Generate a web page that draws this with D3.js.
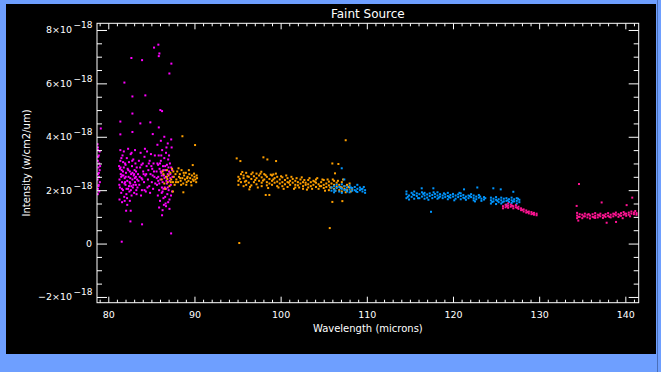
<!DOCTYPE html>
<html>
<head>
<meta charset="utf-8">
<script src="https://cdn.jsdelivr.net/npm/d3@7"></script>
<style>
html, body { margin: 0; padding: 0; background: #6e9fff; }
svg { display: block; }
</style>
</head>
<body>
<svg id="chart" width="661" height="372"></svg>
<script>
// intensities are in units of 1e-18 W/cm2/um
const xMajor = [80, 90, 100, 110, 120, 130, 140];
const yMajor = [-2, 0, 2, 4, 6, 8];
const yExponent = "\u221218";
const chartTitle = "Faint Source";
const xTitle = "Wavelength (microns)";
const yTitle = "Intensity (w/cm2/um)";

// first detector band (magenta)
const magentaPts = [
  [78.75,3.72],[78.8,3.5],[78.9,3.3],[78.78,3.1],[78.95,3.0],[78.85,2.85],[79.0,2.75],[78.8,2.6],
  [78.92,2.5],[78.76,2.4],[79.02,2.3],[78.88,2.2],[78.8,2.05],[78.95,1.95],[78.78,1.85],[79.05,2.9],
  [78.9,2.65],[78.82,3.25],[79.0,3.45],[78.86,2.15],[78.8,3.6],
  [81.25,2.9],[81.3,2.4],[81.35,2.1],[81.4,3.1],[81.45,2.6],[81.5,1.9],[81.55,2.75],[81.6,2.3],
  [81.65,3.3],[81.7,2.0],[81.75,2.55],[81.8,2.85],[81.85,1.75],[81.9,2.45],[81.95,3.0],[82.0,2.2],
  [82.05,2.65],[82.1,1.85],[82.15,3.2],[82.2,2.35],[82.25,2.8],[82.3,2.05],[82.35,2.5],[82.4,3.05],
  [82.45,1.95],[82.5,2.7],[82.55,2.25],[82.6,3.35],[82.65,2.6],[82.7,1.8],[82.75,2.9],[82.8,2.4],
  [82.85,2.1],[82.9,3.15],[82.95,2.55],[83.0,1.9],[83.05,2.75],[83.1,2.3],[83.15,3.0],[83.2,2.5],
  [83.25,2.0],[83.3,2.85],[83.35,2.4],[81.3,1.65],[81.6,1.55],[81.9,1.6],[82.2,1.45],[82.5,1.6],
  [81.4,3.5],[81.8,3.45],[82.3,3.55],[82.7,3.4],[83.1,3.5],[81.5,2.5],[81.7,2.7],[82.0,2.95],
  [82.4,2.15],[82.8,2.65],[83.2,2.2],[81.35,2.8],[81.95,2.3],[82.55,2.45],[83.0,2.6],
  [81.28,2.2],[81.42,2.85],[81.58,2.05],[81.72,3.05],[81.88,2.25],[82.02,2.5],[82.18,1.7],[82.32,2.75],
  [82.48,2.3],[82.62,2.0],[82.78,3.1],[82.92,2.2],[83.08,2.45],[83.22,2.7],[83.38,2.1],[81.52,3.2],
  [82.12,2.05],[82.68,2.15],[83.28,1.85],[81.62,2.55],
  [83.45,2.6],[83.55,3.1],[83.6,2.2],[83.7,2.85],[83.75,3.4],[83.85,2.45],[83.9,2.0],[84.0,3.0],
  [84.05,2.7],[84.15,2.3],[84.2,3.25],[84.3,2.55],[84.35,1.95],[84.45,2.9],[84.5,3.45],[84.6,2.4],
  [84.65,2.75],[84.75,2.15],[84.8,3.1],[84.9,2.6],[84.95,3.35],[85.05,2.3],[85.1,2.8],[85.2,2.05],
  [85.25,3.0],[85.35,2.5],[85.4,3.3],[83.65,2.5],[84.1,2.6],[84.55,2.1],[85.0,2.9],[85.45,2.25],
  [84.25,3.55],[83.8,1.8],[84.85,1.9],[83.5,2.35],[83.95,2.4],[84.4,2.6],[84.7,3.0],[85.15,2.55],
  [84.2,2.0],[83.85,2.95],[85.3,2.7],
  [85.6,2.7],[85.65,2.2],[85.7,3.0],[85.75,1.8],[85.8,2.5],[85.85,3.3],[85.9,2.0],[85.95,2.8],
  [86.0,1.6],[86.05,2.4],[86.1,3.1],[86.15,2.65],[86.2,1.9],[86.25,3.5],[86.3,2.3],[86.35,2.9],
  [86.4,1.7],[86.45,2.55],[86.5,3.2],[86.55,2.1],[86.6,2.75],[86.65,1.5],[86.7,3.4],[86.75,2.35],
  [86.8,2.95],[86.85,1.85],[86.9,2.6],[86.95,3.15],[87.0,2.0],[87.05,2.7],[87.1,1.65],[87.15,3.0],
  [87.2,2.45],[87.25,2.2],[87.3,2.85],[87.35,3.6],[87.4,1.95],[87.45,2.5],[85.7,3.7],[86.1,3.85],
  [86.5,4.0],[86.9,3.75],[87.3,3.9],[85.9,1.35],[86.3,1.25],[86.7,1.4],[87.1,1.3],[86.4,2.05],
  [86.8,2.25],[86.0,3.0],[87.2,2.6],[86.2,2.55],[86.6,2.9],[85.8,2.35],[86.95,1.55],
  [85.62,2.45],[85.78,2.95],[85.92,2.25],[86.08,2.7],[86.22,2.1],[86.38,2.75],[86.52,2.45],[86.68,2.05],
  [86.82,2.5],[86.98,2.85],[87.12,2.35],[87.28,1.8],[87.42,2.75],[86.3,1.95],[86.6,1.75],[86.9,2.1],
  [86.15,3.3],[86.75,3.6],[87.05,3.3],[86.45,1.45],
  [85.81,7.45],[85.31,7.34],[85.93,7.12],[85.86,7.02],[83.92,6.87],[82.68,6.95],[87.32,6.74],
  [87.09,6.37],[81.87,6.03],[82.8,5.51],[84.3,5.55],[82.8,4.87],[86.04,5.0],[86.24,4.96],
  [81.4,4.57],[83.72,4.5],[84.88,4.54],[85.86,4.35],[79.13,4.31],[82.8,4.18],[81.4,4.09],
  [85.16,4.1],[81.56,0.07],[87.29,0.38],[83.92,0.72],[82.57,0.83],[82.07,1.23],[82.6,1.23],[86.24,1.06]
];

// second band (orange)
const orangePts = [
  [86.2,2.4],[86.4,2.6],[86.5,2.25],[86.7,2.5],[86.8,2.75],[86.9,2.3],[87.0,2.55],[87.1,2.15],
  [87.2,2.65],[87.3,2.4],[87.4,2.8],[87.5,2.3],[87.6,2.5],[87.7,2.2],[87.8,2.6],[87.9,2.4],
  [88.0,2.7],[88.1,2.3],[88.2,2.5],[88.3,2.6],[88.4,2.35],[88.5,2.75],[88.6,2.45],[88.7,2.25],
  [88.8,2.55],[88.9,2.4],[89.0,2.65],[89.1,2.3],[89.2,2.5],[89.3,2.35],[89.4,2.6],[89.5,2.45],
  [89.6,2.3],[89.7,2.55],[89.8,2.4],[89.9,2.35],[90.0,2.5],[90.1,2.4],[90.2,2.3],[90.3,2.45],
  [86.3,2.7],[86.85,2.42],[87.25,2.3],[87.55,2.7],[87.85,2.3],[88.15,2.82],[88.45,2.2],[88.75,2.65],
  [89.05,2.2],[89.35,2.75],[89.65,2.18],[89.95,2.62],[90.25,2.55],[88.35,2.45],[89.15,2.45],
  [88.6,4.02],[90.07,3.69],[89.8,2.94],[88.71,1.92],[86.6,2.05],[87.5,1.95],
  [95.1,2.5],[95.1,2.2],[95.1,2.35],[95.4,2.6],[95.4,2.3],[95.7,2.45],[95.7,2.15],[95.7,2.55],
  [96.0,2.35],[96.0,2.65],[96.0,2.2],[96.3,2.5],[96.3,2.28],[96.6,2.42],[96.6,2.6],[96.6,2.18],
  [96.9,2.3],[96.9,2.52],[97.2,2.45],[97.2,2.22],[97.2,2.62],[97.5,2.35],[97.5,2.55],[97.8,2.28],
  [97.8,2.48],[97.8,2.15],[98.1,2.4],[98.1,2.6],[98.4,2.3],[98.4,2.5],[98.4,2.18],[98.7,2.42],
  [98.7,2.25],[99.0,2.35],[99.0,2.55],[99.0,2.2],[99.3,2.45],[99.3,2.28],[99.6,2.32],[99.6,2.5],
  [99.6,2.15],[99.9,2.4],[99.9,2.25],[100.2,2.3],[100.2,2.48],[100.2,2.15],[100.5,2.38],[100.5,2.22],
  [100.8,2.3],[100.8,2.45],[100.8,2.12],[101.1,2.35],[101.1,2.2],[101.4,2.28],[101.4,2.42],[101.7,2.2],
  [101.7,2.35],[101.7,2.1],[102.0,2.3],[102.0,2.18],[102.3,2.25],[102.3,2.4],[102.6,2.15],[102.6,2.3],
  [102.6,2.05],[102.9,2.28],[102.9,2.2],[103.2,2.22],[103.2,2.38],[103.2,2.1],[103.5,2.3],[103.5,2.15],
  [103.8,2.2],[103.8,2.35],[104.1,2.28],[104.1,2.12],[104.1,2.4],[104.4,2.22],[104.4,2.05],[104.7,2.3],
  [104.7,2.15],[105.0,2.2],[105.0,2.38],[105.0,2.08],[105.3,2.25],[105.3,2.12],[105.6,2.18],[105.6,2.32],
  [105.6,2.0],[105.9,2.1],[105.9,2.25],[106.2,2.2],[106.2,2.05],[106.2,2.35],[106.5,2.12],[106.5,2.28],
  [106.8,2.2],[106.8,2.0],[107.1,2.1],[107.1,2.3],[107.1,1.95],[107.4,2.15],[107.4,2.05],[107.7,2.2],
  [107.7,2.0],[108.0,2.1],[108.0,2.25],[108.3,2.05],
  [95.25,2.42],[95.55,2.68],[95.85,2.32],[96.15,2.52],[96.45,2.12],[96.75,2.66],[97.05,2.38],[97.35,2.1],
  [97.65,2.62],[97.95,2.36],[98.25,2.56],[98.55,2.08],[98.85,2.58],[99.15,2.4],[99.45,2.62],[99.75,2.1],
  [100.05,2.52],[100.35,2.05],[100.65,2.55],[100.95,2.28],[101.25,2.5],[101.55,2.05],[101.85,2.45],[102.15,2.1],
  [102.45,2.48],[102.75,2.38],[103.05,2.02],[103.35,2.45],[103.65,2.05],[103.95,2.32],[104.25,2.45],[104.55,2.15],
  [104.85,2.4],[105.15,1.98],[105.45,2.4],[105.75,2.1],[106.05,2.4],[106.35,1.98],[106.65,2.35],[106.95,2.12],
  [107.25,2.4],[107.55,1.92],[107.85,2.12],[108.15,1.95],
  [94.9,3.19],[95.33,3.09],[98.0,3.23],[98.46,3.15],[99.47,3.09],[97.76,2.69],[99.15,2.59],
  [98.27,1.82],[98.69,1.82],[96.37,2.03],[106.0,3.0],[106.7,2.98],[106.31,2.63],[106.0,1.56],
  [107.16,1.59],[107.55,3.87],[95.2,0.02],[105.7,0.58]
];

// third band (blue)
const bluePts = [
  [105.9,2.1],[105.9,1.98],[106.2,2.15],[106.2,2.02],[106.2,1.92],[106.5,2.08],[106.5,2.2],[106.8,1.95],
  [106.8,2.12],[107.1,2.05],[107.1,2.22],[107.1,1.9],[107.4,2.0],[107.4,2.15],[107.7,2.1],[107.7,1.95],
  [108.0,2.02],[108.0,2.18],[108.0,1.92],[108.3,2.08],[108.3,1.98],[108.6,2.12],[108.6,2.0],[108.9,2.05],
  [108.9,1.93],[108.9,2.2],[109.2,2.0],[109.2,2.1],[109.5,1.95],[109.5,2.05],[109.8,2.0],[109.8,1.9],
  [106.35,1.98],[106.95,2.08],[107.55,2.02],[108.15,2.1],[108.75,1.96],[109.35,2.04],[109.65,2.12],
  [107.09,2.82],[107.39,2.4],
  [114.6,1.85],[114.6,1.7],[114.6,1.95],[114.9,1.8],[114.9,1.65],[115.2,1.9],[115.2,1.75],[115.5,1.82],
  [115.5,1.68],[115.5,1.95],[115.8,1.78],[115.8,1.88],[116.1,1.85],[116.1,1.7],[116.4,1.92],[116.4,1.76],
  [116.7,1.8],[116.7,1.68],[116.7,1.9],[117.0,1.84],[117.0,1.72],[117.3,1.78],[117.3,1.88],[117.6,1.82],
  [117.6,1.7],[117.9,1.86],[117.9,1.75],[118.2,1.8],[118.2,1.68],[118.2,1.92],[118.5,1.76],[118.5,1.85],
  [118.8,1.8],[118.8,1.7],[119.1,1.84],[119.1,1.74],[119.4,1.78],[119.4,1.66],[119.4,1.9],[119.7,1.82],
  [119.7,1.72],[120.0,1.76],[120.0,1.86],[120.3,1.8],[120.3,1.68],[120.6,1.74],[120.6,1.84],[120.9,1.78],
  [120.9,1.66],[120.9,1.88],[121.2,1.72],[121.2,1.82],[121.5,1.76],[121.5,1.64],[121.8,1.8],[121.8,1.7],
  [122.1,1.74],[122.1,1.85],[122.4,1.7],[122.4,1.62],[122.4,1.8],[122.7,1.76],[122.7,1.66],[123.0,1.72],
  [123.0,1.82],[123.3,1.68],[123.3,1.6],[123.6,1.74],[123.6,1.65],
  [114.75,1.75],[115.35,1.84],[115.95,1.7],[116.55,1.86],[117.15,1.64],[117.75,1.92],[118.35,1.72],[118.95,1.88],
  [119.55,1.74],[120.15,1.62],[120.75,1.9],[121.35,1.7],[121.95,1.78],[122.55,1.58],[123.15,1.76],[123.75,1.7],
  [124.4,1.62],[124.4,1.5],[124.4,1.72],[124.7,1.58],[124.7,1.68],[125.0,1.64],[125.0,1.48],[125.0,1.74],
  [125.3,1.55],[125.3,1.66],[125.6,1.62],[125.6,1.5],[125.6,1.72],[125.9,1.58],[125.9,1.68],[126.2,1.6],
  [126.2,1.46],[126.2,1.7],[126.5,1.56],[126.5,1.66],[126.8,1.62],[126.8,1.52],[126.8,1.72],[127.1,1.58],
  [127.1,1.66],[127.4,1.6],[127.4,1.5],[127.4,1.7],[127.7,1.55],[127.7,1.64],
  [124.55,1.56],[125.15,1.6],[125.75,1.55],[126.35,1.62],[126.95,1.58],[127.55,1.68],
  [116.37,2.07],[117.72,2.07],[122.82,2.1],[124.68,2.07],[125.54,2.03],[127.0,1.94],[117.45,1.19],[121.28,2.03]
];

// fourth band (pink)
const pinkPts = [
  [125.8,1.4],[125.8,1.32],[126.1,1.45],[126.1,1.36],[126.4,1.42],[126.4,1.34],[126.4,1.5],[126.7,1.38],
  [126.7,1.46],[127.0,1.4],[127.0,1.32],[127.3,1.36],[127.3,1.44],[127.6,1.3],[127.6,1.38],[127.9,1.32],
  [127.9,1.25],[128.2,1.28],[128.2,1.2],[128.5,1.24],[128.5,1.16],[128.8,1.2],[128.8,1.13],[129.1,1.18],
  [129.1,1.1],[129.4,1.15],[129.4,1.08],[129.7,1.12],[129.7,1.06],
  [126.25,1.4],[126.85,1.42],[127.45,1.34],[128.05,1.26],[128.65,1.18],[129.25,1.12],
  [134.4,1.05],[134.4,0.95],[134.4,1.15],[134.7,1.0],[134.7,1.1],[135.0,1.08],[135.0,0.95],[135.3,1.02],
  [135.3,1.12],[135.6,0.98],[135.6,1.08],[135.9,1.05],[135.9,0.94],[136.2,1.1],[136.2,1.0],[136.5,1.04],
  [136.5,0.96],[136.5,1.14],[136.8,1.08],[136.8,0.98],[137.1,1.02],[137.1,1.12],[137.4,1.06],[137.4,0.96],
  [137.7,1.1],[137.7,1.0],[138.0,1.04],[138.0,1.14],[138.3,1.08],[138.3,0.98],[138.6,1.12],[138.6,1.02],
  [138.9,1.06],[138.9,1.16],[139.2,1.1],[139.2,1.0],[139.5,1.14],[139.5,1.04],[139.8,1.08],[139.8,1.18],
  [140.1,1.12],[140.1,1.04],[140.4,1.16],[140.4,1.08],[140.7,1.12],[140.7,1.2],[141.0,1.1],[141.0,1.16],
  [141.3,1.14],[141.3,1.08],
  [134.55,1.0],[135.15,1.02],[135.75,1.1],[136.35,0.98],[136.95,1.06],[137.55,1.04],[138.15,1.0],[138.75,1.1],
  [139.35,1.06],[139.95,1.12],[140.55,1.02],[141.15,1.22],
  [134.62,2.23],[137.25,1.54],[140.15,1.44],[140.8,1.72],[134.35,1.41],[137.83,0.78],[138.92,0.81],
  [139.69,0.95],[134.54,0.86]
];

const series = [
  {pts: magentaPts, color: "#ff00ff"},
  {pts: orangePts, color: "#ffa000"},
  {pts: bluePts, color: "#0096ff"},
  {pts: pinkPts, color: "#ff1493"}
];

const plot = {left: 97, right: 638.7, top: 23.3, bottom: 302.7};
const font = "DejaVu Sans, sans-serif";

const svg = d3.select("#chart");

// black panel with the blue frame around it
svg.append("rect")
  .attr("x", 6).attr("y", 4).attr("width", 650).attr("height", 350)
  .attr("fill", "#000");
svg.append("line")
  .attr("x1", 657.5).attr("x2", 657.5).attr("y1", 0).attr("y2", 372)
  .attr("stroke", "#4a6fb8");

const x = d3.scaleLinear().domain([78.69, 141.55]).range([plot.left, plot.right]);
const y = d3.scaleLinear().domain([-2.215, 8.25]).range([plot.bottom, plot.top]);

const xMinor = d3.range(79, 142, 1).filter(v => xMajor.indexOf(v) === -1);
const yMinor = d3.range(-2, 8.01, 0.5).filter(v => yMajor.indexOf(v) === -1);

// points
svg.append("clipPath").attr("id", "clip")
  .append("rect")
  .attr("x", plot.left).attr("y", plot.top)
  .attr("width", plot.right - plot.left).attr("height", plot.bottom - plot.top);

const marks = svg.append("g").attr("clip-path", "url(#clip)");
series.forEach(s => {
  marks.selectAll(null)
    .data(s.pts)
    .enter()
    .append("rect")
    .attr("x", d => x(d[0]) - 1)
    .attr("y", d => y(d[1]) - 1)
    .attr("width", 2)
    .attr("height", 2)
    .attr("fill", s.color);
});

// axes: ticks point into the plot on all four sides
function styleAxis(g) {
  g.select(".domain").remove();
  g.selectAll("line").attr("stroke", "#fff");
  g.selectAll("text").attr("fill", "#fff").attr("font-family", font).attr("font-size", 9.5);
}

svg.append("g")
  .attr("transform", `translate(0,${plot.bottom})`)
  .call(d3.axisBottom(x).tickValues(xMajor).tickSize(-6).tickPadding(9).tickFormat(d3.format("d")))
  .call(styleAxis);
svg.append("g")
  .attr("transform", `translate(0,${plot.bottom})`)
  .call(d3.axisBottom(x).tickValues(xMinor).tickSize(-3).tickFormat(""))
  .call(styleAxis);
svg.append("g")
  .attr("transform", `translate(0,${plot.top})`)
  .call(d3.axisTop(x).tickValues(xMajor).tickSize(-6).tickFormat(""))
  .call(styleAxis);
svg.append("g")
  .attr("transform", `translate(0,${plot.top})`)
  .call(d3.axisTop(x).tickValues(xMinor).tickSize(-3).tickFormat(""))
  .call(styleAxis);

svg.append("g")
  .attr("transform", `translate(${plot.left},0)`)
  .call(d3.axisLeft(y).tickValues(yMajor).tickSize(-10).tickFormat(""))
  .call(styleAxis);
svg.append("g")
  .attr("transform", `translate(${plot.left},0)`)
  .call(d3.axisLeft(y).tickValues(yMinor).tickSize(-5).tickFormat(""))
  .call(styleAxis);
svg.append("g")
  .attr("transform", `translate(${plot.right},0)`)
  .call(d3.axisRight(y).tickValues(yMajor).tickSize(-10).tickFormat(""))
  .call(styleAxis);
svg.append("g")
  .attr("transform", `translate(${plot.right},0)`)
  .call(d3.axisRight(y).tickValues(yMinor).tickSize(-5).tickFormat(""))
  .call(styleAxis);

// plot frame
svg.append("rect")
  .attr("x", plot.left).attr("y", plot.top)
  .attr("width", plot.right - plot.left).attr("height", plot.bottom - plot.top)
  .attr("fill", "none").attr("stroke", "#fff");

// y tick labels like 4x10^-18
const yLabels = svg.append("g").attr("fill", "#fff").attr("font-family", font);
yMajor.forEach(v => {
  if (v === 0) {
    yLabels.append("text")
      .attr("x", 92).attr("y", y(v) + 3.5)
      .attr("text-anchor", "end").attr("font-size", 9.5)
      .text("0");
  } else {
    yLabels.append("text")
      .attr("x", 72).attr("y", y(v) + 3.5)
      .attr("text-anchor", "end").attr("font-size", 9.5)
      .text((v < 0 ? "\u2212" + (-v) : v) + "\u00d710");
    yLabels.append("text")
      .attr("x", 73.5).attr("y", y(v) - 1.5)
      .attr("text-anchor", "start").attr("font-size", 9)
      .text(yExponent);
  }
});

// titles
svg.append("text")
  .attr("x", (plot.left + plot.right) / 2).attr("y", 18)
  .attr("text-anchor", "middle").attr("fill", "#fff")
  .attr("font-family", font).attr("font-size", 12)
  .text(chartTitle);

svg.append("text")
  .attr("x", (plot.left + plot.right) / 2).attr("y", 332)
  .attr("text-anchor", "middle").attr("fill", "#fff")
  .attr("font-family", font).attr("font-size", 10)
  .text(xTitle);

svg.append("text")
  .attr("transform", `translate(30,${(plot.top + plot.bottom) / 2}) rotate(-90)`)
  .attr("text-anchor", "middle").attr("fill", "#fff")
  .attr("font-family", font).attr("font-size", 10)
  .text(yTitle);
</script>
</body>
</html>
